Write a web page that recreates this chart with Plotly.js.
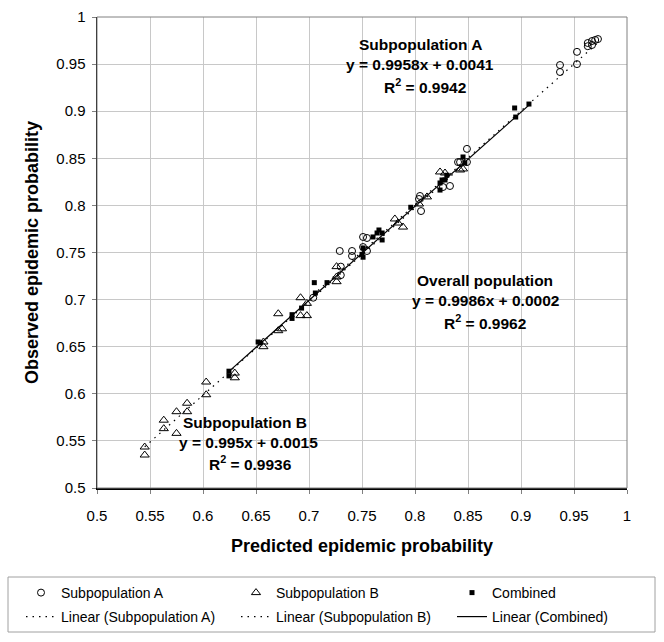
<!DOCTYPE html>
<html><head><meta charset="utf-8">
<script src="https://cdn.plot.ly/plotly-3.0.1.min.js"></script>
<style>body{margin:0;background:#fff}#c{width:664px;height:642px}</style>
</head><body><div id="c"></div>
<script>
// Subpopulation A (open circles)
const aX = [0.704,0.730,0.730,0.729,0.7406,0.7406,0.751,0.7547,0.751,0.7547,0.8047,0.8038,0.8057,0.8264,0.833,0.8406,0.8425,0.849,0.849,0.9368,0.9368,0.9528,0.9528,0.963,0.967,0.970,0.9726,0.967,0.963];
const aY = [0.702,0.735,0.726,0.7516,0.7516,0.7463,0.7665,0.7654,0.7558,0.7516,0.810,0.8068,0.794,0.8195,0.8206,0.846,0.846,0.860,0.846,0.949,0.9416,0.963,0.950,0.9724,0.9745,0.9756,0.9766,0.9703,0.969];
// Subpopulation B (open triangles)
const bX = [0.545,0.545,0.563,0.563,0.575,0.575,0.585,0.585,0.603,0.603,0.630,0.630,0.657,0.657,0.671,0.671,0.6745,0.692,0.692,0.698,0.698,0.726,0.726,0.726,0.781,0.784,0.7887,0.8038,0.8113,0.8236,0.8283,0.8425,0.8453];
const bY = [0.5435,0.535,0.572,0.563,0.581,0.558,0.590,0.581,0.599,0.6125,0.622,0.617,0.655,0.650,0.685,0.667,0.669,0.702,0.683,0.683,0.696,0.735,0.719,0.724,0.7856,0.7813,0.777,0.8015,0.809,0.8355,0.8344,0.8376,0.8387];
// Combined (filled squares)
const cX = [0.6245,0.6245,0.652,0.654,0.684,0.684,0.693,0.706,0.705,0.717,0.750,0.751,0.751,0.7604,0.7642,0.766,0.769,0.769,0.796,0.8236,0.8236,0.8255,0.8283,0.830,0.8453,0.847,0.894,0.895,0.9075];
const cY = [0.624,0.619,0.655,0.654,0.684,0.680,0.691,0.707,0.718,0.718,0.748,0.745,0.7548,0.7665,0.7707,0.7739,0.7707,0.7633,0.798,0.8163,0.8238,0.827,0.827,0.832,0.8514,0.845,0.9034,0.8938,0.9076];
// Linear trend coefficients [slope, intercept] as printed on the chart
const fitA = [0.9958, 0.0041];
const fitB = [0.995, 0.0015];
const fitC = [0.9986, 0.0002];
const tickVals = [0.5,0.55,0.6,0.65,0.7,0.75,0.8,0.85,0.9,0.95,1];

function fitLine(xs, f){
  const x0 = Math.min(...xs), x1 = Math.max(...xs);
  return {x:[x0,x1], y:[f[0]*x0+f[1], f[0]*x1+f[1]]};
}
const lA = fitLine(aX, fitA), lB = fitLine(bX, fitB), lC = fitLine(cX, fitC);

const traces = [
  {x:aX, y:aY, mode:'markers', name:'Subpopulation A', legend:'legend', marker:{symbol:'circle-open', size:7, color:'#000', line:{width:1}}},
  {x:bX, y:bY, mode:'markers', name:'Subpopulation B', legend:'legend2', marker:{symbol:'triangle-up-open', size:8, color:'#000', line:{width:1}}},
  {x:cX, y:cY, mode:'markers', name:'Combined', legend:'legend3', marker:{symbol:'square', size:5, color:'#000'}},
  {x:lA.x, y:lA.y, mode:'lines', name:'Linear (Subpopulation A)', legend:'legend4', line:{color:'#000', width:1.2, dash:'1.5px,5px'}},
  {x:lB.x, y:lB.y, mode:'lines', name:'Linear (Subpopulation B)', legend:'legend5', line:{color:'#000', width:1.2, dash:'1.5px,5px'}},
  {x:lC.x, y:lC.y, mode:'lines', name:'Linear (Combined)', legend:'legend6', line:{color:'#000', width:1.2}}
];

const ann = (x,y,t)=>({xref:'paper', yref:'paper', x:x, y:y, text:t, showarrow:false, xanchor:'center', yanchor:'middle', font:{family:'Liberation Sans, Arial', size:15.5, color:'#000', weight:'bold'}});
// paper coords: x px -> (px-97)/530 ; y px -> (488-py)/471
const px = p => (p-97)/530, py = p => (488-p)/471;
const leg = (xp, yp) => ({x:px(xp), y:py(yp), xanchor:'left', yanchor:'middle', orientation:'v',
  font:{size:14, family:'Liberation Sans, Arial', color:'#000'}, bgcolor:'rgba(0,0,0,0)', borderwidth:0, itemwidth:30});

const layout = {
  width:664, height:642,
  margin:{l:97, r:37, t:17, b:154, autoexpand:false},
  paper_bgcolor:'#fff', plot_bgcolor:'#fff',
  font:{family:'Liberation Sans, Arial', color:'#000'},
  showlegend:true,
  legend: leg(21, 593),
  legend2: leg(236, 593),
  legend3: leg(452, 593),
  legend4: leg(21, 617),
  legend5: leg(236, 617),
  legend6: leg(452, 617),
  xaxis:{range:[0.5,1], tickvals:tickVals, ticktext:tickVals.map(String), showgrid:true, gridcolor:'#c8c8c8', gridwidth:1,
    showline:true, linecolor:'#000', linewidth:1.5, ticks:'outside', ticklen:4, tickcolor:'#808080', zeroline:false,
    tickfont:{size:15}, ticklabelstandoff:9,
    title:{text:'<b>Predicted epidemic probability</b>', font:{size:18}, standoff:17}},
  yaxis:{range:[0.5,1], tickvals:tickVals, ticktext:tickVals.map(String), showgrid:true, gridcolor:'#c8c8c8', gridwidth:1,
    showline:true, linecolor:'#000', linewidth:1.5, ticks:'outside', ticklen:4, tickcolor:'#808080', zeroline:false,
    tickfont:{size:15}, ticklabelstandoff:3,
    title:{text:'<b>Observed epidemic probability</b>', font:{size:18}, standoff:13}},
  shapes:[
    {type:'rect', xref:'paper', yref:'paper', x0:0, x1:1, y0:0, y1:1, line:{color:'#808080', width:1}},
    {type:'rect', xref:'paper', yref:'paper', x0:px(8), x1:px(655), y0:py(577), y1:py(632), line:{color:'#a0a0a0', width:1}, fillcolor:'rgba(0,0,0,0)'}
  ],
  annotations:[
    ann(px(420), py(45), 'Subpopulation A'),
    ann(px(420), py(65), 'y = 0.9958x + 0.0041'),
    ann(px(425), py(86), 'R<sup>2</sup> = 0.9942'),
    ann(px(485), py(280), 'Overall population'),
    ann(px(485), py(300), 'y = 0.9986x + 0.0002'),
    ann(px(485), py(322), 'R<sup>2</sup> = 0.9962'),
    ann(px(245), py(422), 'Subpopulation B'),
    ann(px(248), py(442), 'y = 0.995x + 0.0015'),
    ann(px(250), py(463), 'R<sup>2</sup> = 0.9936')
  ]
};
Plotly.newPlot('c', traces, layout, {displayModeBar:false, staticPlot:true});
</script>
</body></html>
